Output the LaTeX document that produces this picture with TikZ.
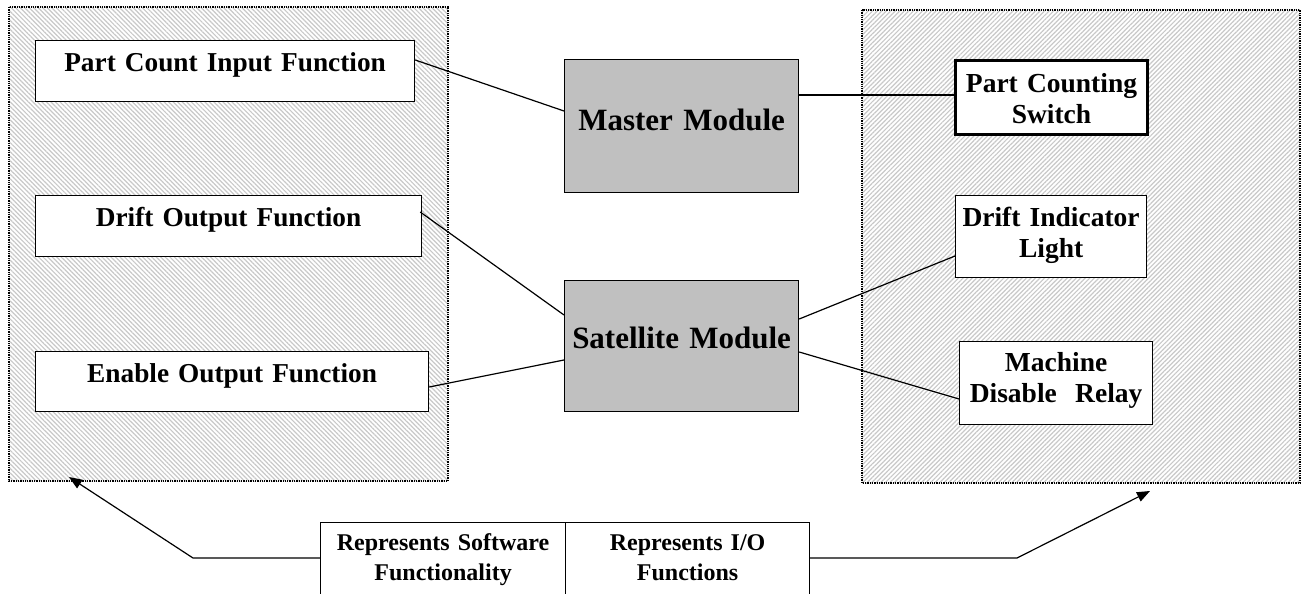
\documentclass[tikz,border=0pt]{standalone}
\usepackage{fontspec}
\setmainfont{Liberation Serif}[WordSpace=0.8]
\usetikzlibrary{patterns.meta,arrows.meta,calc}
\definecolor{silver}{RGB}{192,192,192}
\definecolor{hatchgray}{RGB}{200,200,200}
\begin{document}
\begin{tikzpicture}[x=1pt,y=-1pt,
  region/.style={draw=black, line width=1.3pt, dash pattern=on 1.3pt off 1pt},
  boxbase/.style={draw=black, fill=white, line width=1.2pt, inner sep=0pt, anchor=north west, align=center},
  swbox/.style={boxbase, font=\bfseries\fontsize{27.3}{31}\selectfont},
  iobox/.style={boxbase, font=\bfseries\fontsize{27.5}{31}\selectfont},
  module/.style={boxbase, fill=silver, font=\bfseries\fontsize{31}{35}\selectfont},
  legendbox/.style={boxbase, font=\bfseries\fontsize{24}{30}\selectfont},
  conn/.style={draw=black, line width=1.2pt},
  tipped/.style={conn, -{Triangle[length=13pt,width=10pt]}}]
\useasboundingbox (0,0) rectangle (1307,594);
\clip (0,0) rectangle (1307,594);
% hatched regions
\path[pattern={Lines[angle=-45,distance=3.2pt,line width=1.2pt]}, pattern color=hatchgray] (9,7) rectangle (448,481);
\draw[region] (9,7) rectangle (448,481);
\path[pattern={Lines[angle=45,distance=3.2pt,line width=1.2pt]}, pattern color=hatchgray] (862,10) rectangle (1300,483);
\draw[region] (862,10) rectangle (1300,483);
% software boxes
\node[swbox, text width=379pt, text height=31pt, text depth=30pt] (pcif) at (35,40) {Part Count Input Function};
\node[swbox, text width=386pt, text height=31pt, text depth=30pt] (dof) at (35,195) {Drift Output Function};
\node[swbox, text width=393pt, text height=31pt, text depth=29pt] (eof) at (35,351) {Enable Output Function};
% modules
\node[module, text width=234pt, text height=71pt, text depth=62pt] (master) at (564,59) {Master Module};
\node[module, text width=234pt, text height=68pt, text depth=63pt] (sat) at (564,280) {Satellite Module};
% I/O boxes
\node[iobox, line width=3pt, text width=192pt, text height=32pt, text depth=42pt] (pcs) at (954,59) {Part Counting\\Switch};
\node[iobox, text width=191pt, text height=31pt, text depth=51pt] (dil) at (955,195) {Drift Indicator\\Light};
\node[iobox, text width=193pt, text height=30pt, text depth=53pt] (mdr) at (959,341) {Machine\\Disable\ \ Relay};
% legend
\node[legendbox, text width=245pt, text height=28pt, text depth=82pt] (leg1) at (320,522) {Represents Software\\Functionality};
\node[legendbox, text width=244pt, text height=28pt, text depth=82pt] (leg2) at (565,522) {Represents I/O\\Functions};
% connectors
\draw[conn] ($(pcif.north east)+(0,20)$) -- ($(master.north west)+(0,52)$);
\draw[conn] ($(master.north east)+(0,36)$) -- ($(pcs.north west)+(0,36)$);
\draw[conn] ($(dof.north east)+(-2,17)$) -- ($(sat.north west)+(0,35)$);
\draw[conn] ($(eof.north east)+(0,36)$) -- ($(sat.north west)+(0,80)$);
\draw[conn] ($(sat.north east)+(0,39)$) -- ($(dil.north west)+(0,61)$);
\draw[conn] ($(sat.north east)+(0,72)$) -- ($(mdr.north west)+(0,58)$);
% legend arrows
\coordinate (lbend) at (193,558);
\coordinate (ltip) at (69,477);
\coordinate (rbend) at (1017,558);
\coordinate (rtip) at (1150,491);
\draw[tipped] ($(leg1.north west)+(0,36)$) -- (lbend) -- (ltip);
\draw[tipped] ($(leg2.north east)+(0,36)$) -- (rbend) -- (rtip);
\end{tikzpicture}
\end{document}
